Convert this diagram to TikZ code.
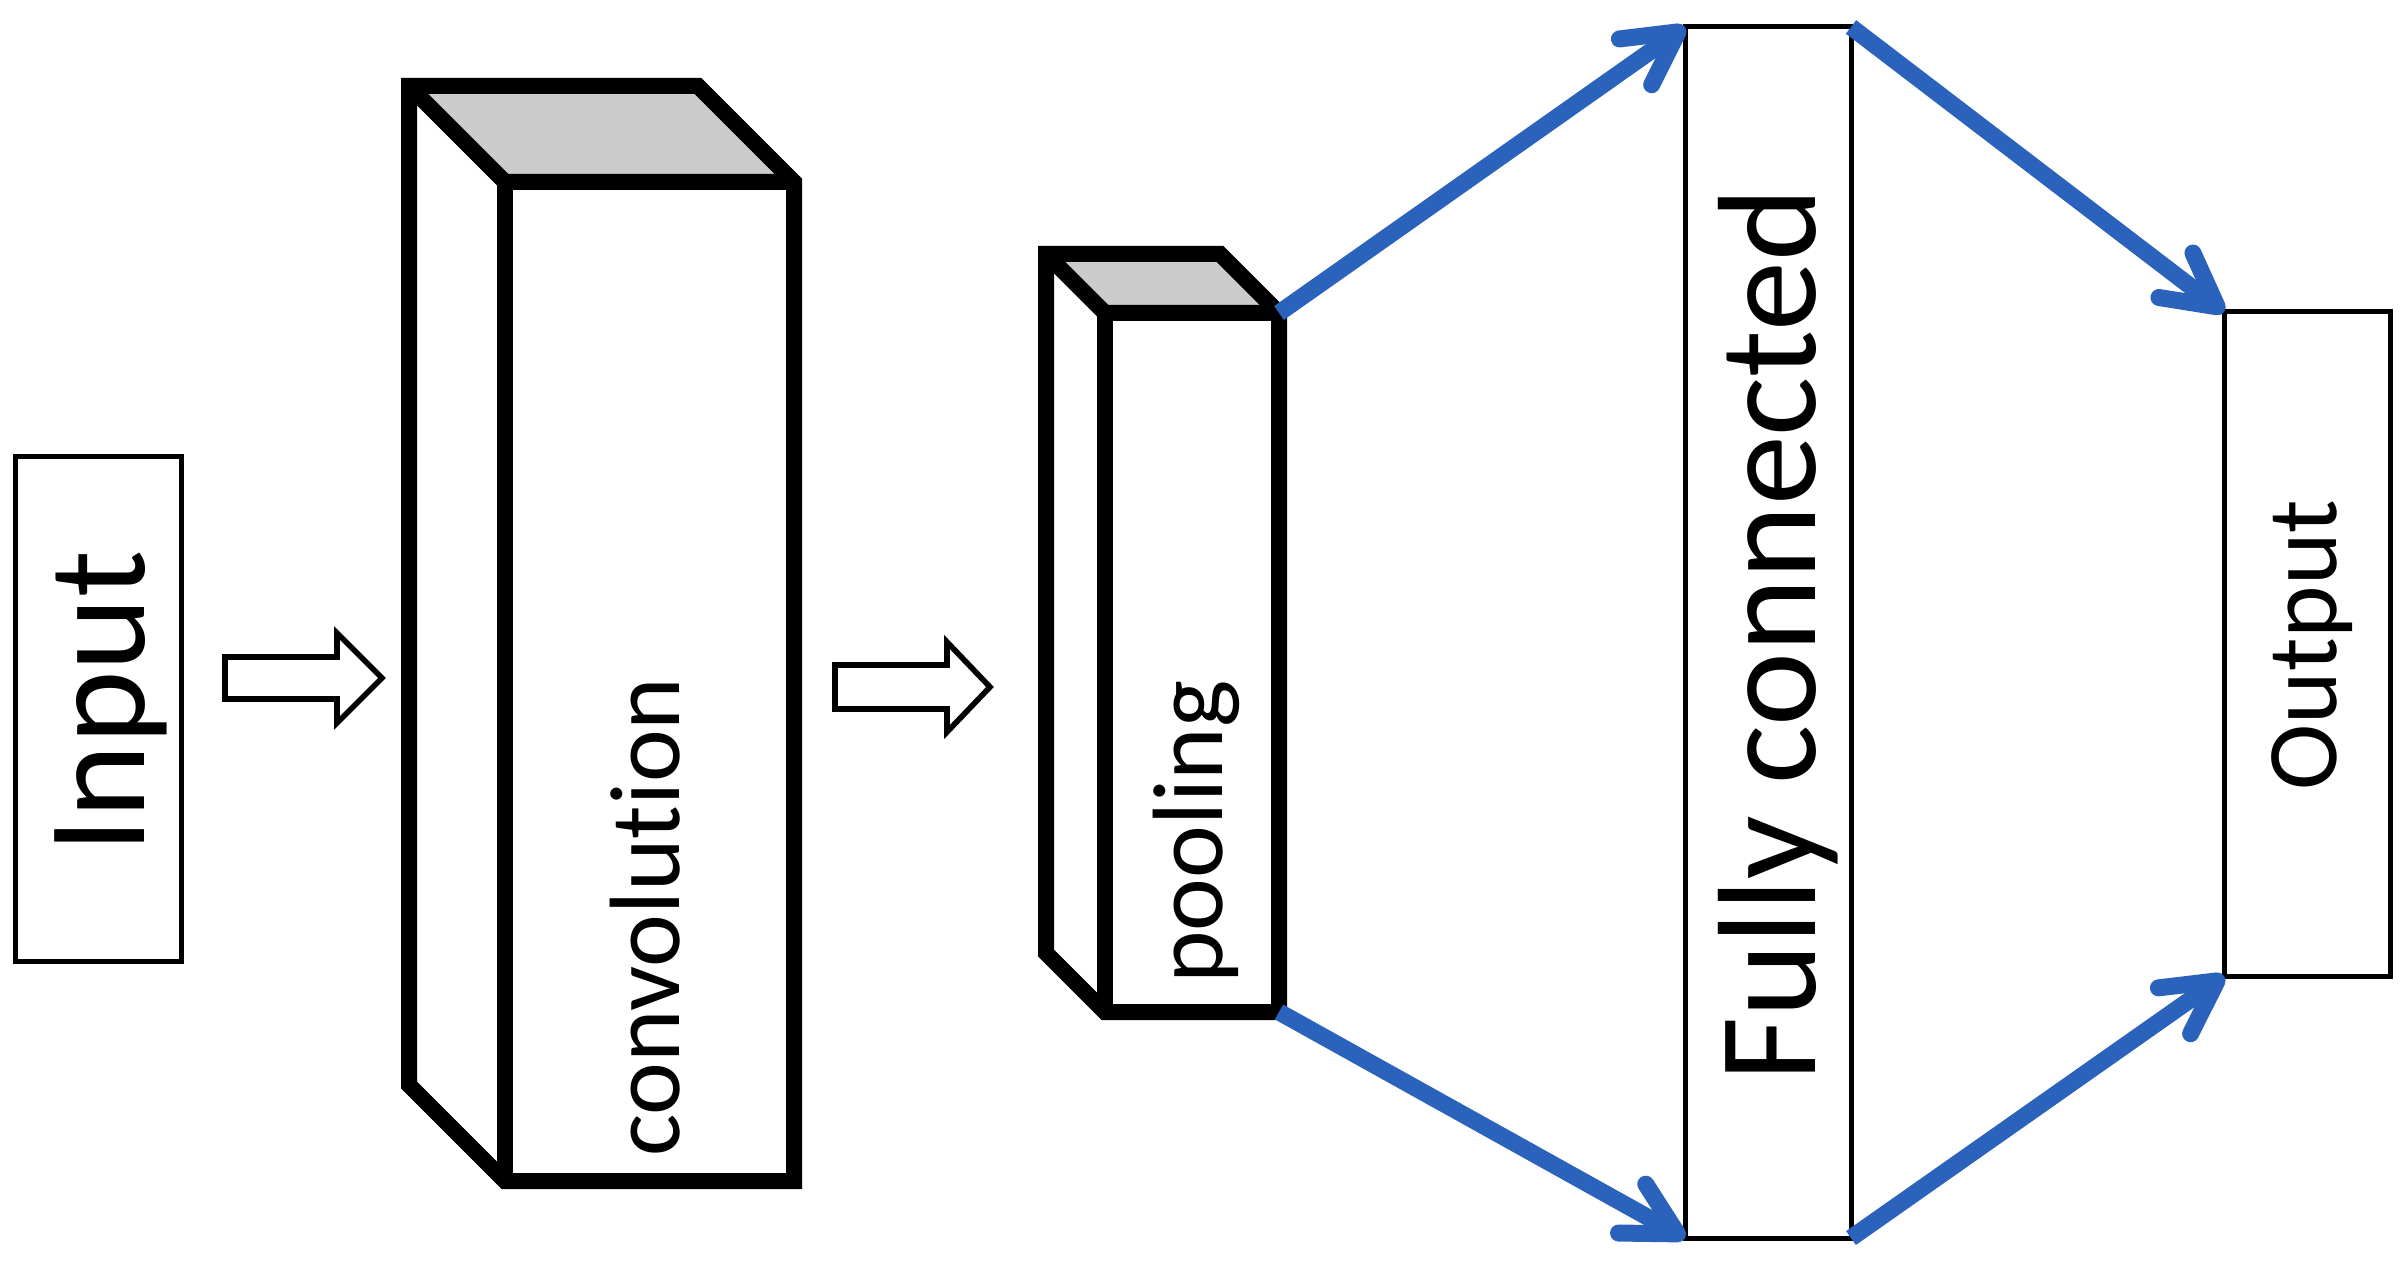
\documentclass[tikz,border=0pt]{standalone}
\usepackage{fontspec}
\setmainfont{Carlito}[Ligatures=NoCommon]
\usetikzlibrary{arrows.meta}
\definecolor{arrowblue}{RGB}{43,99,188}
\definecolor{topgrey}{RGB}{204,204,204}
\begin{document}
\begin{tikzpicture}[x=0.5pt,y=-0.5pt,
  thinbox/.style={draw=black, line width=2.5pt, inner sep=0pt, outer sep=0pt, minimum width=83pt},
  thick3d/.style={draw=black, line width=8pt, line join=miter},
  topface/.style={fill=topgrey},
  openarrow/.style={draw=black, line width=2.8pt, fill=white, line join=miter},
  flow/.style={draw=arrowblue, line width=8.5pt, -{Straight Barb[length=26pt,width=28pt,round]}},
  bigtxt/.style={font=\fontsize{70}{80}\selectfont, rotate=90, anchor=base, inner sep=0pt},
  smalltxt/.style={font=\fontsize{50}{58}\selectfont, rotate=90, anchor=base, inner sep=0pt}]
\fill[white] (0,0) rectangle (2408,1262);
\useasboundingbox (0,0) rectangle (2408,1262);

% Input box
\node[thinbox, minimum height=252.5pt] (input) at (98,709) {};
\node[bigtxt] (inputtxt) at (144,702) {Input};

% open arrow 1
\draw[openarrow] (225,657) -- (337,657) -- (337,633) -- (382,678) -- (337,723) -- (337,699) -- (225,699) -- cycle;

% convolution block
\coordinate (cBTL) at (409,86);
\coordinate (cBTR) at (698,86);
\coordinate (cFTL) at (505,182);
\coordinate (cFTR) at (794,182);
\coordinate (cFBR) at (794,1181);
\coordinate (cFBL) at (505,1181);
\coordinate (cBBL) at (409,1085);
\fill[topface] (cBTL) -- (cBTR) -- (cFTR) -- (cFTL) -- cycle;
\draw[thick3d] (cBTL) -- (cBTR) -- (cFTR) -- (cFBR) -- (cFBL) -- (cBBL) -- cycle;
\draw[thick3d] (cBTL) -- (cFTL) -- (cFTR);
\draw[thick3d] (cFTL) -- (cFBL);
\node[smalltxt] (convtxt) at (679,917) {convolution};

% open arrow 2
\draw[openarrow] (835,665) -- (947,665) -- (947,642) -- (990,687) -- (947,732) -- (947,709) -- (835,709) -- cycle;

% pooling block
\coordinate (pBTL) at (1046,254);
\coordinate (pBTR) at (1220,254);
\coordinate (pFTL) at (1105,313);
\coordinate (pFTR) at (1279,313);
\coordinate (pFBR) at (1279,1012);
\coordinate (pFBL) at (1105,1012);
\coordinate (pBBL) at (1046,953);
\fill[topface] (pBTL) -- (pBTR) -- (pFTR) -- (pFTL) -- cycle;
\draw[thick3d] (pBTL) -- (pBTR) -- (pFTR) -- (pFBR) -- (pFBL) -- (pBBL) -- cycle;
\draw[thick3d] (pBTL) -- (pFTL) -- (pFTR);
\draw[thick3d] (pFTL) -- (pFBL);
\node[smalltxt] (pooltxt) at (1222,832) {pooling};

% fully connected
\node[thinbox, minimum height=605.5pt] (fc) at (1768,632.5) {};
\node[bigtxt] (fctxt) at (1815,635) {Fully connected};

% output
\node[thinbox, minimum height=332pt] (out) at (2307,644) {};
\node[smalltxt] (outtxt) at (2336,645) {Output};

% blue connectors
\draw[flow] (pFTR) -- (fc.north west);
\draw[flow] (pFBR) -- (fc.south west);
\draw[flow] (fc.north east) -- (out.north west);
\draw[flow] (fc.south east) -- (out.south west);
\end{tikzpicture}
\end{document}
